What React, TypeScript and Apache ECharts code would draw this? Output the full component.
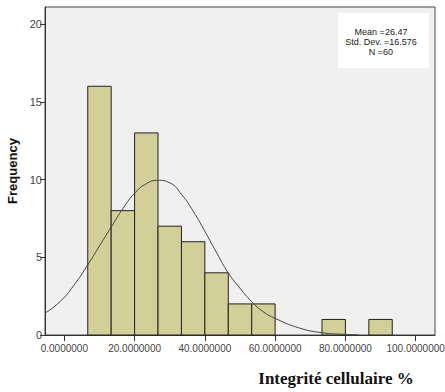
import React, { useEffect, useRef } from "react";
import * as echarts from "echarts";

const binStarts = [6.67, 13.33, 20, 26.67, 33.33, 40, 46.67, 53.33, 60, 66.67, 73.33, 80, 86.67];
const binWidth = 6.667;
const counts = [16, 8, 13, 7, 6, 4, 2, 2, 0, 0, 1, 0, 1];

const curveX = [-5.5, -1.2, 2.6, 6.8, 10.2, 13.5, 16.8, 20.1, 23.4, 26.5, 30.1, 33.4, 36.7, 40, 43.4, 46.7, 50, 53.3, 56.6, 60, 66.6, 73.2, 80, 83.6];
const curveY = [1.4, 2.15, 3.16, 4.56, 5.8, 7.0, 8.17, 9.14, 9.74, 9.95, 9.78, 9.03, 7.96, 6.67, 5.27, 3.98, 3.01, 2.15, 1.5, 1.07, 0.47, 0.15, 0.04, 0.01];

const xTicks = [0, 20, 40, 60, 80, 100];
const yTicks = [0, 5, 10, 15, 20];

const statLines = ["Mean =26.47", "Std. Dev. =16.576", "N =60"];
const xTitle = "Integrité cellulaire %";
const yTitle = "Frequency";

const SANS = "'Liberation Sans', Arial, sans-serif";

export default function App() {
  const ref = useRef<HTMLDivElement>(null);
  useEffect(() => {
    if (!ref.current) return;
    const chart = echarts.init(ref.current, undefined, { renderer: "svg" });
    const barData = binStarts.map((s, i) => [s, s + binWidth, counts[i]]).filter((d) => d[2] > 0);
    const curveData = curveX.map((x, i) => [x, curveY[i]]);
    chart.setOption({
      animation: false,
      backgroundColor: "#ffffff",
      grid: {
        left: 45,
        right: 10,
        top: 7,
        bottom: 57,
        outerBoundsMode: "none",
        containLabel: false,
        show: true,
        backgroundColor: "#f0f0f0",
        borderColor: "#444",
        borderWidth: 1,
      },
      xAxis: {
        type: "value",
        min: -5.5,
        max: 105.5,
        splitLine: { show: false },
        axisLine: { show: true, onZero: false, lineStyle: { color: "#333", width: 1 } },
        axisTick: { show: true, customValues: xTicks, length: 6, lineStyle: { color: "#333" } },
        axisLabel: {
          customValues: xTicks,
          formatter: (v: number) => v.toFixed(7),
          color: "#444",
          fontSize: 10,
          fontFamily: SANS,
          margin: 8,
          hideOverlap: false,
        },
      },
      yAxis: {
        type: "value",
        min: 0,
        max: 21.1,
        name: yTitle,
        nameLocation: "middle",
        nameGap: 23,
        nameTextStyle: { fontFamily: SANS, fontWeight: "bold", fontSize: 13, color: "#111" },
        splitLine: { show: false },
        axisLine: { show: true, onZero: false, lineStyle: { color: "#333", width: 1 } },
        axisTick: { show: true, customValues: yTicks, length: 5, lineStyle: { color: "#333" } },
        axisLabel: {
          customValues: yTicks,
          color: "#444",
          fontSize: 11,
          fontFamily: SANS,
          margin: 3,
        },
      },
      series: [
        {
          type: "custom",
          data: barData,
          encode: { x: [0, 1], y: 2 },
          renderItem: (params: any, api: any) => {
            const p0 = api.coord([api.value(0), api.value(2)]);
            const p1 = api.coord([api.value(1), 0]);
            return {
              type: "rect",
              shape: { x: p0[0], y: p0[1], width: p1[0] - p0[0], height: p1[1] - p0[1] },
              style: { fill: "#d3cf99", stroke: "#222", lineWidth: 1 },
            };
          },
          z: 2,
        },
        {
          type: "line",
          data: curveData,
          smooth: true,
          showSymbol: false,
          symbol: "none",
          lineStyle: { color: "#444", width: 1 },
          z: 3,
        },
      ],
      graphic: [
        {
          type: "rect",
          shape: { x: 338, y: 13, width: 91, height: 55 },
          style: { fill: "#ffffff" },
          z: 10,
        },
        ...statLines.map((t, i) => ({
          type: "text",
          x: 381,
          y: 32 + i * 10,
          z: 11,
          style: {
            text: t,
            fontSize: 9,
            fontFamily: SANS,
            fill: "#222",
            textAlign: "center",
            textVerticalAlign: "middle",
          },
        })),
        {
          type: "text",
          x: 336,
          y: 378,
          style: {
            text: xTitle,
            fontSize: 17,
            fontWeight: "bold",
            fontFamily: "'Liberation Serif', 'Times New Roman', serif",
            fill: "#111",
            textAlign: "center",
            textVerticalAlign: "middle",
          },
        },
      ],
    });
    return () => chart.dispose();
  }, []);
  return <div ref={ref} style={{ position: "absolute", left: 0, top: 0, width: 445, height: 392 }} />;
}
